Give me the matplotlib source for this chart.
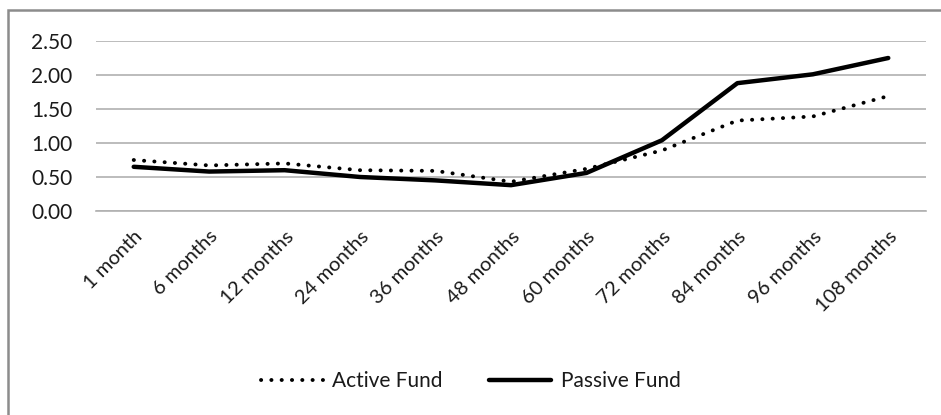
## line chart: active vs passive fund
import matplotlib.pyplot as plt
from matplotlib.patches import Rectangle

#data
periods = ['1 month', '6 months', '12 months', '24 months', '36 months', '48 months',
           '60 months', '72 months', '84 months', '96 months', '108 months']
active_fund = [0.75, 0.67, 0.70, 0.60, 0.59, 0.43, 0.62, 0.89, 1.33, 1.39, 1.69]
passive_fund = [0.65, 0.58, 0.60, 0.50, 0.45, 0.38, 0.56, 1.04, 1.88, 2.01, 2.25]
y_ticks = [0.0, 0.5, 1.0, 1.5, 2.0, 2.5]

plt.rcParams['font.family'] = ['Lato', 'DejaVu Sans']
txt_color = '#1a1a1a'

fig = plt.figure(figsize=(9.41, 4.15), dpi=100)
ax = fig.add_axes([96 / 941, 1 - 211 / 415, 830 / 941, 170 / 415])

x = list(range(len(periods)))
ax.plot(x, active_fund, color='black', linewidth=2.8, linestyle=(0, (0.05, 2.6)),
        dash_capstyle='round', label='Active Fund')
ax.plot(x, passive_fund, color='black', linewidth=3.2, solid_capstyle='round',
        label='Passive Fund')

ax.set_xlim(-0.5, len(periods) - 0.5)
ax.set_ylim(0, 2.5)
ax.set_yticks(y_ticks)
ax.set_yticklabels(['%.2f' % v for v in y_ticks], fontsize=15, color=txt_color)
ax.yaxis.grid(True, color='#b0b0b0', linewidth=1.2)
ax.set_axisbelow(True)
ax.set_xticks(x)
ax.set_xticklabels(periods, rotation=45, ha='right', rotation_mode='anchor',
                   fontsize=14.5, color=txt_color)
ax.tick_params(axis='y', length=0, pad=17)
ax.tick_params(axis='x', length=0, pad=12)
for s in ['top', 'right', 'left']:
    ax.spines[s].set_visible(False)
ax.spines['bottom'].set_color('#b0b0b0')
ax.spines['bottom'].set_linewidth(1.2)

leg = fig.legend(loc='center', bbox_to_anchor=(0.5, 1 - 381 / 415), ncol=2, frameon=False,
                 fontsize=15, handlelength=3.0, handletextpad=0.45, columnspacing=2.2)
for t in leg.get_texts():
    t.set_color(txt_color)

#outer frame (runs off the right and bottom edges)
fig.patches.append(Rectangle((8 / 941, -10 / 415), 950 / 941, 415 / 415, transform=fig.transFigure,
                             fill=False, edgecolor='#8c8c8c', linewidth=1.8))

plt.savefig('out.png', dpi=100)
